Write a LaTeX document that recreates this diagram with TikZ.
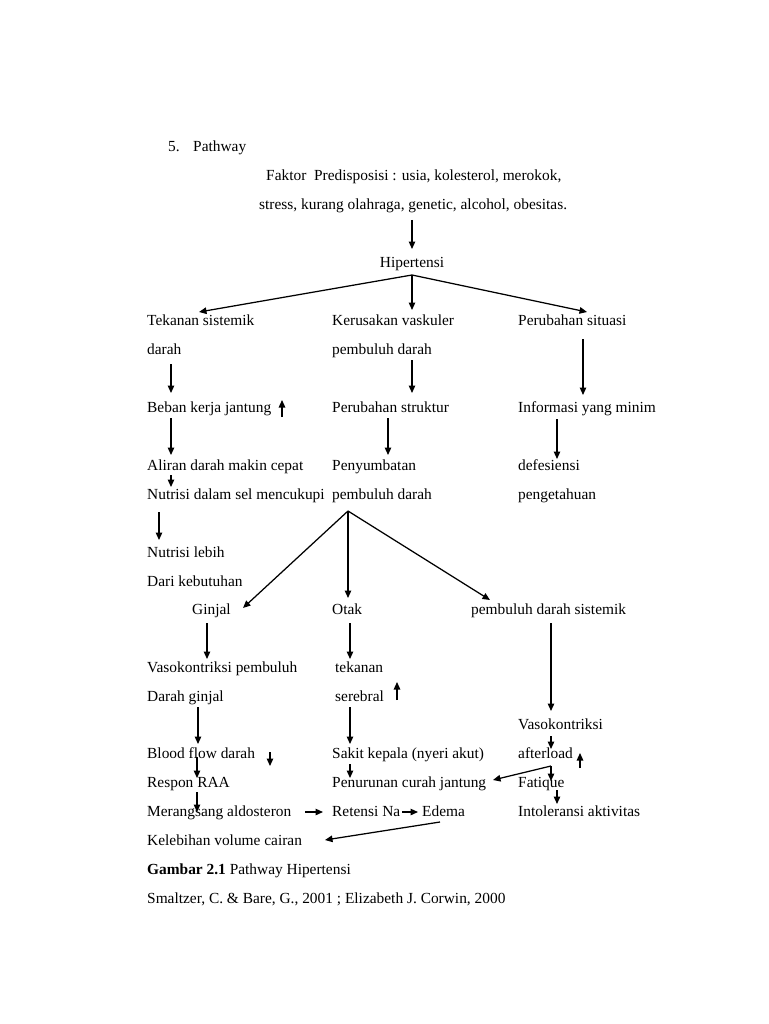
\documentclass[tikz,border=0pt]{standalone}
\usepackage{fontspec}
\setmainfont{Liberation Serif}
\usetikzlibrary{arrows.meta}
\begin{document}
\begin{tikzpicture}[x=1pt,y=-1pt,
  t/.style={anchor=west,inner sep=0pt,text height=15pt,text depth=3.5pt,font=\fontsize{15.4}{18}\selectfont},
  arr/.style={line width=1.25pt,-{Triangle[length=7.5pt,width=6.5pt]}}]
\fill[white] (0,0) rectangle (768,1024);
\useasboundingbox (0,0) rectangle (768,1024);
% texts
\node[t] (num) at (168,146) {5.};
\node[t] (pw) at (193,146) {Pathway};
\node[t] (fak1) at (266,175) {Faktor\ \ Predisposisi : usia, kolesterol, merokok,};
\node[t] (fak2) at (259,204) {stress, kurang olahraga, genetic, alcohol, obesitas.};
\node[t,anchor=center] (hip) at (412,262) {Hipertensi};
\node[t] (tek1) at (147,320) {Tekanan sistemik};
\node[t] (ker1) at (332,320) {Kerusakan vaskuler};
\node[t] (per1) at (518,320) {Perubahan situasi};
\node[t] (tek2) at (147,349) {darah};
\node[t] (ker2) at (332,349) {pembuluh darah};
\node[t] (beb) at (147,407) {Beban kerja jantung};
\node[t] (pstr) at (332,407) {Perubahan struktur};
\node[t] (inf) at (518,407) {Informasi yang minim};
\node[t] (ali) at (147,465) {Aliran darah makin cepat};
\node[t] (pen1) at (332,465) {Penyumbatan};
\node[t] (def1) at (518,465) {defesiensi};
\node[t] (nut) at (147,494) {Nutrisi dalam sel mencukupi};
\node[t] (pen2) at (332,494) {pembuluh darah};
\node[t] (def2) at (518,494) {pengetahuan};
\node[t] (nl1) at (147,552) {Nutrisi lebih};
\node[t] (nl2) at (147,581) {Dari kebutuhan};
\node[t] (gin) at (192,609) {Ginjal};
\node[t] (otak) at (332,609) {Otak};
\node[t] (pds) at (471,609) {pembuluh darah sistemik};
\node[t] (vas1) at (147,667) {Vasokontriksi pembuluh};
\node[t] (tek) at (335,667) {tekanan};
\node[t] (vas2) at (147,696) {Darah ginjal};
\node[t] (ser) at (335,696) {serebral};
\node[t] (vas3) at (518,724) {Vasokontriksi};
\node[t] (blood) at (147,753) {Blood flow darah};
\node[t] (sakit) at (332,753) {Sakit kepala (nyeri akut)};
\node[t] (after) at (518,753) {afterload};
\node[t] (resp) at (147,782) {Respon RAA};
\node[t] (penu) at (332,782) {Penurunan curah jantung};
\node[t] (fat) at (518,782) {Fatique};
\node[t] (mer) at (147,811) {Merangsang aldosteron};
\node[t] (ret) at (332,811) {Retensi Na};
\node[t] (ede) at (422,811) {Edema};
\node[t] (intol) at (518,811) {Intoleransi aktivitas};
\node[t] (kel) at (147,840) {Kelebihan volume cairan};
\node[t] (gam) at (147,869) {\textbf{Gambar 2.1} Pathway Hipertensi};
\node[t] (src) at (147,898) {Smaltzer, C. \& Bare, G., 2001 ; Elizabeth J. Corwin, 2000};
% connector points
\coordinate (a1s) at (412,220); \coordinate (a1e) at (412,249);
\coordinate (h0) at (412,275);
\coordinate (hL) at (199,312); \coordinate (hC) at (412,310); \coordinate (hR) at (587,312);
\coordinate (v1s) at (171,364); \coordinate (v1e) at (171,393);
\coordinate (v2s) at (412,360); \coordinate (v2e) at (412,393);
\coordinate (v3s) at (583,339); \coordinate (v3e) at (583,395);
\coordinate (u1s) at (282,417); \coordinate (u1e) at (282,400);
\coordinate (v4s) at (171,418); \coordinate (v4e) at (171,455);
\coordinate (v5s) at (388,418); \coordinate (v5e) at (388,455);
\coordinate (v6s) at (557,419); \coordinate (v6e) at (557,459);
\coordinate (v7s) at (171,475); \coordinate (v7e) at (171,487);
\coordinate (v8s) at (159,512); \coordinate (v8e) at (159,540);
\coordinate (b0) at (348,511);
\coordinate (bL) at (243,608); \coordinate (bC) at (348,598); \coordinate (bR) at (490,600);
\coordinate (v9s) at (207,623); \coordinate (v9e) at (207,659);
\coordinate (v10s) at (350,623); \coordinate (v10e) at (350,659);
\coordinate (v11s) at (551,623); \coordinate (v11e) at (551,711);
\coordinate (u2s) at (397,700); \coordinate (u2e) at (397,682);
\coordinate (v12s) at (198,707); \coordinate (v12e) at (198,744);
\coordinate (v13s) at (350,707); \coordinate (v13e) at (350,744);
\coordinate (v14s) at (551,736); \coordinate (v14e) at (551,749);
\coordinate (d1s) at (270,752); \coordinate (d1e) at (270,766);
\coordinate (u3s) at (580,768); \coordinate (u3e) at (580,753);
\coordinate (v15s) at (197,757); \coordinate (v15e) at (197,778);
\coordinate (v16s) at (350,764); \coordinate (v16e) at (350,778);
\coordinate (x0) at (551,766); \coordinate (xL) at (493,780); \coordinate (xD) at (551,781);
\coordinate (v18s) at (197,792); \coordinate (v18e) at (197,812);
\coordinate (v19s) at (557,790); \coordinate (v19e) at (557,804);
\coordinate (h1s) at (305,812); \coordinate (h1e) at (323,812);
\coordinate (h2s) at (402,812); \coordinate (h2e) at (418,812);
\coordinate (e0) at (440,822); \coordinate (eL) at (325,840);
% connectors
\draw[arr] (a1s) -- (a1e);
\draw[arr] (h0) -- (hL);
\draw[arr] (h0) -- (hC);
\draw[arr] (h0) -- (hR);
\draw[arr] (v1s) -- (v1e);
\draw[arr] (v2s) -- (v2e);
\draw[arr] (v3s) -- (v3e);
\draw[arr] (u1s) -- (u1e);
\draw[arr] (v4s) -- (v4e);
\draw[arr] (v5s) -- (v5e);
\draw[arr] (v6s) -- (v6e);
\draw[arr] (v7s) -- (v7e);
\draw[arr] (v8s) -- (v8e);
\draw[arr] (b0) -- (bL);
\draw[arr] (b0) -- (bC);
\draw[arr] (b0) -- (bR);
\draw[arr] (v9s) -- (v9e);
\draw[arr] (v10s) -- (v10e);
\draw[arr] (v11s) -- (v11e);
\draw[arr] (u2s) -- (u2e);
\draw[arr] (v12s) -- (v12e);
\draw[arr] (v13s) -- (v13e);
\draw[arr] (v14s) -- (v14e);
\draw[arr] (d1s) -- (d1e);
\draw[arr] (u3s) -- (u3e);
\draw[arr] (v15s) -- (v15e);
\draw[arr] (v16s) -- (v16e);
\draw[arr] (x0) -- (xL);
\draw[arr] (x0) -- (xD);
\draw[arr] (v18s) -- (v18e);
\draw[arr] (v19s) -- (v19e);
\draw[arr] (h1s) -- (h1e);
\draw[arr] (h2s) -- (h2e);
\draw[arr] (e0) -- (eL);
\end{tikzpicture}
\end{document}
